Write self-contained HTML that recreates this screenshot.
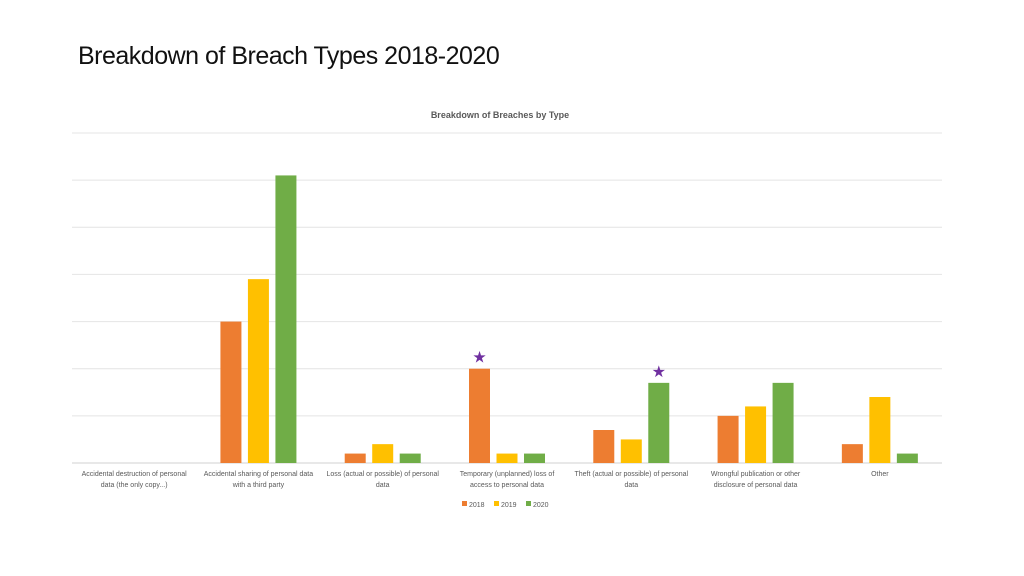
<!DOCTYPE html>
<html><head><meta charset="utf-8"><style>
body{margin:0;width:1024px;height:576px;background:#fff;overflow:hidden;font-family:"Liberation Sans",sans-serif}
#title{position:absolute;left:78px;top:42px;font-size:25px;color:#111;letter-spacing:-0.5px}
svg{position:absolute;left:0;top:0}
</style></head><body>
<div id="title">Breakdown of Breach Types 2018-2020</div>
<svg id="chart" width="1024" height="576"></svg>
<script>
const categories=[["Accidental destruction of personal","data (the only copy...)"],["Accidental sharing of personal data","with a third party"],["Loss (actual or possible) of personal","data"],["Temporary (unplanned) loss of","access to personal data"],["Theft (actual or possible) of personal","data"],["Wrongful publication or other","disclosure of personal data"],["Other"]];
const seriesNames=["2018","2019","2020"];
const colors=["#ed7d31","#ffc000","#70ad47"];
const s2018=[0,30,2,20,7,10,4];
const s2019=[0,39,4,2,5,12,14];
const s2020=[0,61,2,2,17,17,2];
const stars=[[3,0],[4,2]];
const yTicks=[0,10,20,30,40,50,60,70];
const NS="http://www.w3.org/2000/svg";
const svg=document.getElementById('chart');
const x0=72,x1=942,yBase=463,yTop=133,yMax=70;
const y=v=>yBase-(v/yMax)*(yBase-yTop);
const bw=(x1-x0)/categories.length;
const cx=i=>x0+bw*(i+0.5);
const series=[s2018,s2019,s2020];
function mk(t,a){const e=document.createElementNS(NS,t);for(const k in a)e.setAttribute(k,a[k]);svg.appendChild(e);return e;}
let t=mk('text',{x:500,y:118,'text-anchor':'middle','font-size':9,'font-weight':'bold',fill:'#595959'});t.textContent="Breakdown of Breaches by Type";


yTicks.forEach(v=>{const l=mk('line',{x1:x0,x2:x1,y1:y(v),y2:y(v),stroke:v===0?'#d0d0d0':'#e4e4e4','stroke-width':1});

});
categories.forEach((c,i)=>{
 series.forEach((s,j)=>{const v=s[i];if(v<=0)return;
  const r=mk('rect',{x:cx(i)+(j-1)*27.5-10.5,y:y(v),width:21,height:yBase-y(v),fill:colors[j]});
  
  });
 c.forEach((ln,k)=>{const tx=mk('text',{x:cx(i),y:476+k*11,'text-anchor':'middle','font-size':7,fill:'#595959'});tx.textContent=ln;
  
  });
});
stars.forEach(([i,j])=>{const v=series[j][i];const st=mk('text',{x:cx(i)+(j-1)*27.5,y:y(v)-6,'text-anchor':'middle','font-size':16,fill:'#7030a0'});st.textContent='★';
 
 });
seriesNames.forEach((n,j)=>{const lx=462+j*32;
 const r=mk('rect',{x:lx,y:501,width:5,height:5,fill:colors[j]});
 
 
 const tx=mk('text',{x:lx+7,y:507,'font-size':7,fill:'#595959'});tx.textContent=n;
 
 });
</script>
</body></html>
